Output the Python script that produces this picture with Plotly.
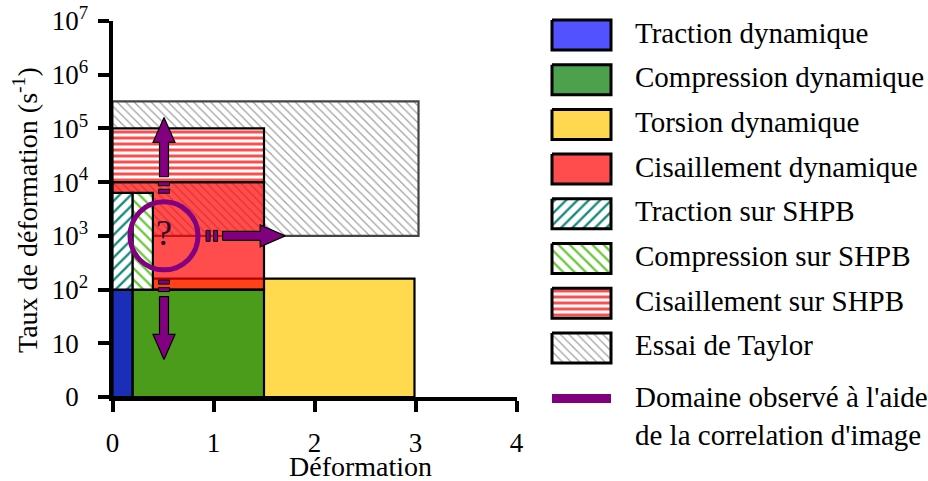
import math
import plotly.graph_objects as go

# ---- data ----
x_ticks = [0, 1, 2, 3, 4]
y_tickvals = [0, 1, 2, 3, 4, 5, 6, 7]
y_ticktext = ["0<sup>\u2007</sup>", "10<sup>\u2007</sup>", "10<sup>2</sup>", "10<sup>3</sup>",
              "10<sup>4</sup>", "10<sup>5</sup>", "10<sup>6</sup>", "10<sup>7</sup>"]

# test domains: strain range and strain-rate range (s-1), in drawing order
regions = ["Torsion dynamique", "Essai de Taylor", "Traction dynamique", "Compression dynamique",
           "Cisaillement dynamique", "Cisaillement sur SHPB", "Traction sur SHPB", "Compression sur SHPB"]
strain_min = [0, 0, 0, 0.2, 0, 0, 0, 0.2]
strain_max = [2.99, 3.03, 0.2, 1.5, 1.5, 1.5, 0.2, 0.4]
rate_min = [0, 1e3, 0, 0, 1e2, 1e4, 1e2, 1e2]
rate_max = [160, 3.2e5, 1e2, 1e2, 1e4, 1e5, 6.3e3, 6.3e3]

legend_labels = ["Traction dynamique", "Compression dynamique", "Torsion dynamique",
                 "Cisaillement dynamique", "Traction sur SHPB", "Compression sur SHPB",
                 "Cisaillement sur SHPB", "Essai de Taylor"]
dic_label = "Domaine observé à l'aide<br>de la correlation d'image"

# domain observed with image correlation: centre and arrows (strain, rate)
dic_center = (0.51, 1e3)
arrow_start = [(0.51, 1.26e4), (0.51, 74), (1.09, 1e3)]
arrow_end = [(0.51, 1.6e5), (0.51, 5.0), (1.71, 1e3)]

# ---- styles ----
W, H = 928, 481
PX_L, PX_R, PX_T, PX_B = 112.5, 516.5, 21, 397
X_RANGE = [0, 4]
Y_RANGE = [0, 7]
kx = (PX_R - PX_L) / (X_RANGE[1] - X_RANGE[0])
ky = (PX_B - PX_T) / (Y_RANGE[1] - Y_RANGE[0])
FONT = "Liberation Serif"
PURPLE = "#800080"

chart_style = {
    "Torsion dynamique": dict(fill="#FFDA4F"),
    "Essai de Taylor": dict(fill="white", pat=("\\", "#a0a0a0", 6, 0.2), line="#444444"),
    "Traction dynamique": dict(fill="#1B2EB8"),
    "Compression dynamique": dict(fill="#4B9C1B"),
    "Cisaillement dynamique": dict(fill="rgba(255,0,0,0.7)"),
    "Cisaillement sur SHPB": dict(fill="white", pat=("-", "#FF4C4C", 6, 0.5)),
    "Traction sur SHPB": dict(fill="white", pat=("/", "#178A80", 8, 0.3)),
    "Compression sur SHPB": dict(fill="white", pat=("\\", "#6CC93C", 8, 0.3)),
}
legend_style = {
    "Traction dynamique": dict(fill="#5252FF"),
    "Compression dynamique": dict(fill="#4DA14D"),
    "Torsion dynamique": dict(fill="#FFD84F"),
    "Cisaillement dynamique": dict(fill="#FF4C4C"),
    "Traction sur SHPB": dict(fill="white", pat=("/", "#178A80", 8, 0.3)),
    "Compression sur SHPB": dict(fill="white", pat=("\\", "#6CC93C", 8, 0.3)),
    "Cisaillement sur SHPB": dict(fill="white", pat=("-", "#FF4C4C", 6, 0.5)),
    "Essai de Taylor": dict(fill="white", pat=("\\", "#a0a0a0", 6, 0.2)),
}


def dec(v):
    return math.log10(v) if v > 0 else 0.0


def to_px(x, y):
    return PX_L + (x - X_RANGE[0]) * kx, PX_B - (y - Y_RANGE[0]) * ky


def from_px(px, py):
    return X_RANGE[0] + (px - PX_L) / kx, Y_RANGE[0] + (PX_B - py) / ky


def rect_trace(x0, x1, y0, y1, st, lw, xa="x", ya="y"):
    pat = st.get("pat")
    kw = {}
    if pat:
        kw["fillpattern"] = dict(shape=pat[0], fgcolor=pat[1], bgcolor=st["fill"],
                                 size=pat[2], solidity=pat[3], fillmode="replace")
    return go.Scatter(x=[x0, x1, x1, x0, x0], y=[y0, y0, y1, y1, y0], mode="lines",
                      fill="toself", fillcolor=st["fill"],
                      line=dict(color=st.get("line", "black"), width=lw),
                      hoverinfo="skip", showlegend=False, xaxis=xa, yaxis=ya, **kw)


fig = go.Figure()

for name, x0, x1, r0, r1 in zip(regions, strain_min, strain_max, rate_min, rate_max):
    fig.add_trace(rect_trace(x0, x1, dec(r0), dec(r1), chart_style[name], 2.2))

# arrows (built in pixel space so the head keeps its shape)
SW, HW, HL = 4.5, 11, 25
for (sx, sr), (ex, er) in zip(arrow_start, arrow_end):
    bx, by = to_px(sx, dec(sr))
    tx, ty = to_px(ex, dec(er))
    L = math.hypot(tx - bx, ty - by)
    ux, uy = (tx - bx) / L, (ty - by) / L
    nx, ny = -uy, ux
    neckx, necky = tx - ux * HL, ty - uy * HL
    pts = [(bx + nx * SW, by + ny * SW), (neckx + nx * SW, necky + ny * SW),
           (neckx + nx * HW, necky + ny * HW), (tx, ty),
           (neckx - nx * HW, necky - ny * HW), (neckx - nx * SW, necky - ny * SW),
           (bx - nx * SW, by - ny * SW), (bx + nx * SW, by + ny * SW)]
    d = [from_px(px, py) for px, py in pts]
    fig.add_trace(go.Scatter(x=[p[0] for p in d], y=[p[1] for p in d], mode="lines",
                             fill="toself", fillcolor=PURPLE, line=dict(color="black", width=1.2),
                             hoverinfo="skip", showlegend=False))
    # two small dashes between circle and arrow
    for off in (7, 14.5):
        cx, cy = bx - ux * off, by - uy * off
        q = [(cx + ux * 2 + nx * 5.5, cy + uy * 2 + ny * 5.5), (cx - ux * 2 + nx * 5.5, cy - uy * 2 + ny * 5.5),
             (cx - ux * 2 - nx * 5.5, cy - uy * 2 - ny * 5.5), (cx + ux * 2 - nx * 5.5, cy + uy * 2 - ny * 5.5),
             (cx + ux * 2 + nx * 5.5, cy + uy * 2 + ny * 5.5)]
        dq = [from_px(px, py) for px, py in q]
        fig.add_trace(go.Scatter(x=[p[0] for p in dq], y=[p[1] for p in dq], mode="lines",
                                 fill="toself", fillcolor=PURPLE, line=dict(color="black", width=1),
                                 hoverinfo="skip", showlegend=False))

# circle around the unknown zone
ccx, ccy = dic_center[0], dec(dic_center[1])
R = 34
fig.add_shape(type="circle", xref="x", yref="y", x0=ccx - R / kx, x1=ccx + R / kx,
              y0=ccy - R / ky, y1=ccy + R / ky, line=dict(color=PURPLE, width=5), layer="above")
fig.add_annotation(x=ccx, y=ccy, text="?", showarrow=False, xref="x", yref="y",
                   xanchor="center", yanchor="middle",
                   font=dict(family=FONT, size=36, color="#2e082e"), yshift=3)

# ---- legend drawn in a pixel-scaled helper subplot ----
ROW0, ROWD = 35, 44.7
for i, lab in enumerate(legend_labels):
    yc = ROW0 + i * ROWD
    fig.add_trace(rect_trace(552, 611, yc - 15, yc + 15, legend_style[lab], 3, "x2", "y2"))
    fig.add_annotation(x=633, y=yc, xref="x2", yref="y2", text=lab, showarrow=False, yshift=2.5,
                       xanchor="left", yanchor="middle", font=dict(family=FONT, size=29, color="black"))
yl = ROW0 + len(legend_labels) * ROWD + 6
fig.add_trace(go.Scatter(x=[552, 611], y=[yl, yl], mode="lines", line=dict(color=PURPLE, width=9),
                         hoverinfo="skip", showlegend=False, xaxis="x2", yaxis="y2"))
fig.add_annotation(x=633, y=yl - 19, xref="x2", yref="y2", text=dic_label, showarrow=False,
                   xanchor="left", yanchor="top", align="left", yshift=1,
                   font=dict(family=FONT, size=29, color="black"))

# axis titles
fig.add_annotation(x=360 / W, y=1 - 466 / H, xref="paper", yref="paper", text="Déformation",
                   showarrow=False, xanchor="center", yanchor="middle",
                   font=dict(family=FONT, size=28, color="black"))
fig.add_annotation(x=25 / W, y=1 - 210 / H, xref="paper", yref="paper", textangle=-90,
                   text="Taux de déformation (s<sup>-1</sup>)", showarrow=False,
                   xanchor="center", yanchor="middle",
                   font=dict(family=FONT, size=28, color="black"))

axis_common = dict(showline=True, linecolor="black", linewidth=4, ticks="outside", ticklen=11,
                   tickwidth=4, tickcolor="black", showgrid=False, zeroline=False, fixedrange=True,
                   automargin=False, tickfont=dict(family=FONT, size=27, color="black"))
fig.update_layout(
    template="none",
    width=W, height=H, margin=dict(l=0, r=0, t=0, b=0, pad=0),
    paper_bgcolor="white", plot_bgcolor="rgba(0,0,0,0)", showlegend=False,
    xaxis=dict(domain=[PX_L / W, PX_R / W], range=X_RANGE, tickvals=x_ticks,
               ticklabelstandoff=8, **axis_common),
    yaxis=dict(domain=[(H - PX_B) / H, (H - PX_T) / H], range=Y_RANGE, tickvals=y_tickvals,
               ticktext=y_ticktext, ticklabelstandoff=4, **axis_common),
    xaxis2=dict(domain=[540 / W, 1], range=[540, W], visible=False, fixedrange=True,
                automargin=False, anchor="y2"),
    yaxis2=dict(domain=[0, 1], range=[H, 0], visible=False, fixedrange=True,
                automargin=False, anchor="x2"),
)

fig.write_html("out.html", config={"displayModeBar": False},
               post_script="document.body.style.margin='0';document.body.style.overflow='hidden';")
